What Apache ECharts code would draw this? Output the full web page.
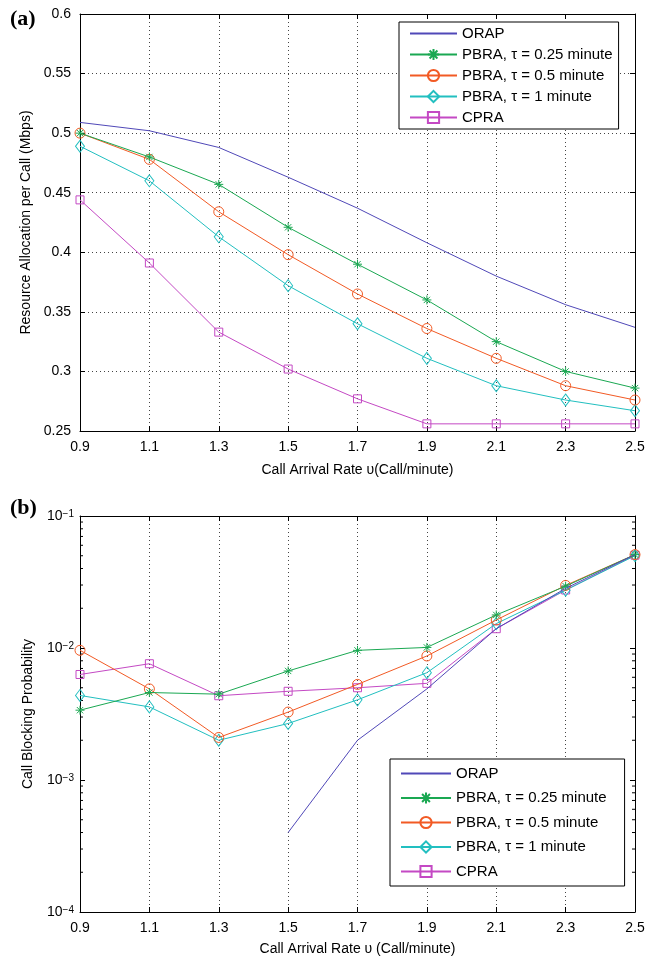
<!DOCTYPE html>
<html>
<head>
<meta charset="utf-8">
<script src="https://cdn.jsdelivr.net/npm/echarts@6/dist/echarts.min.js"></script>
<style>
html,body{margin:0;padding:0;background:#fff;}
#chart{width:648px;height:964px;}
</style>
</head>
<body>
<div id="chart"></div>
<script>
// ---- data ----
const categories = ['0.9','1.1','1.3','1.5','1.7','1.9','2.1','2.3','2.5'];
const seriesNames = ['ORAP','PBRA, \u03C4 = 0.25 minute','PBRA, \u03C4 = 0.5 minute','PBRA, \u03C4 = 1 minute','CPRA'];
const xTitles = ['Call Arrival Rate \u03C5(Call/minute)', 'Call Arrival Rate \u03C5 (Call/minute)'];

// (a) Resource Allocation per Call (Mbps)
const orapA   = [0.509, 0.502, 0.488, 0.463, 0.437, 0.408, 0.380, 0.356, 0.337];
const pbra25A = [0.500, 0.480, 0.457, 0.421, 0.390, 0.360, 0.325, 0.300, 0.286];
const pbra05A = [0.500, 0.478, 0.434, 0.398, 0.365, 0.336, 0.311, 0.288, 0.276];
const pbra1A  = [0.489, 0.460, 0.413, 0.372, 0.340, 0.311, 0.288, 0.276, 0.267];
const cpraA   = [0.444, 0.391, 0.333, 0.302, 0.277, 0.256, 0.256, 0.256, 0.256];

// (b) Call Blocking Probability
const orapB   = [null, null, null, 0.0004, 0.0020, 0.0049, 0.0140, 0.0283, 0.0510];
const pbra25B = [0.00338, 0.0046, 0.00447, 0.0067, 0.0096, 0.0101, 0.0178, 0.0294, 0.0510];
const pbra05B = [0.0096, 0.0049, 0.0021, 0.00327, 0.0053, 0.0087, 0.0163, 0.0298, 0.0510];
const pbra1B  = [0.00437, 0.00358, 0.0020, 0.00268, 0.00405, 0.0065, 0.0153, 0.0274, 0.0500];
const cpraB   = [0.0063, 0.0076, 0.00435, 0.0047, 0.0050, 0.0054, 0.0140, 0.0275, 0.0505];

// log axis minor tick values
const logMinorTicks = [0.0002,0.0003,0.0004,0.0005,0.0006,0.0007,0.0008,0.0009,
                       0.002,0.003,0.004,0.005,0.006,0.007,0.008,0.009,
                       0.02,0.03,0.04,0.05,0.06,0.07,0.08,0.09];

// ---- styles ----
const FONT = 'Liberation Sans';
const colors = ['#5048b8', '#1aa852', '#f25a24', '#22bfc0', '#c449c4'];
const asterisk = 'path://M5,0L5,10M0,5L10,5M1.5,1.5L8.5,8.5M1.5,8.5L8.5,1.5';
const symbols = ['none', asterisk, 'circle', 'diamond', 'rect'];
const symbolSizes = [0, 9, 10, [9, 12], 8];

function makeSeries(name, idx, data, gridIdx) {
  const c = colors[idx];
  return {
    name: name,
    type: 'line',
    xAxisIndex: gridIdx * 2,
    yAxisIndex: gridIdx * 2,
    data: data,
    symbol: symbols[idx],
    symbolSize: symbolSizes[idx],
    showSymbol: idx !== 0,
    connectNulls: false,
    lineStyle: { color: c, width: 1 },
    itemStyle: { color: 'rgba(0,0,0,0)', borderColor: c, borderWidth: 1 },
    emphasis: { disabled: true },
    z: 5 - idx + 2
  };
}

const legendData = seriesNames.map(function (n, i) {
  if (i === 0) {
    return { name: n, itemStyle: { color: 'rgba(0,0,0,0)', borderColor: 'rgba(0,0,0,0)', borderWidth: 0, opacity: 0 } };
  }
  return { name: n };
});

const gridLine = { show: true, lineStyle: { color: '#444', type: [1, 3], width: 1 } };
const axisLine = { show: true, onZero: false, lineStyle: { color: '#000', width: 1 } };
const tickIn = { show: true, inside: true, length: 5, lineStyle: { color: '#000', width: 1 }, interval: 0, alignWithLabel: true };

function xAxes(gridIdx) {
  return [
    {
      gridIndex: gridIdx, type: 'category', data: categories, boundaryGap: false, position: 'bottom',
      axisLine: axisLine, axisTick: tickIn, splitLine: Object.assign({ interval: 0 }, gridLine),
      axisLabel: { interval: 0, fontFamily: FONT, fontSize: 14, color: '#000', margin: 9 },
      name: xTitles[gridIdx], nameLocation: 'middle',
      nameGap: gridIdx === 0 ? 32 : 30,
      nameTextStyle: { fontFamily: FONT, fontSize: 14, color: '#000' }
    },
    {
      gridIndex: gridIdx, type: 'category', data: categories, boundaryGap: false, position: 'top',
      axisLine: axisLine, axisTick: tickIn, splitLine: { show: false }, axisLabel: { show: false }
    }
  ];
}

const option = {
  animation: false,
  backgroundColor: '#fff',
  title: [
    { text: '(a)', left: 5, top: 3, textStyle: { fontFamily: 'Liberation Serif', fontWeight: 'bold', fontSize: 22, color: '#000' } },
    { text: '(b)', left: 5, top: 492, textStyle: { fontFamily: 'Liberation Serif', fontWeight: 'bold', fontSize: 22, color: '#000' } }
  ],
  grid: [
    { left: 80, right: 13, top: 14, height: 417 },
    { left: 80, right: 13, top: 516, height: 396 }
  ],
  legend: [
    {
      data: legendData, orient: 'vertical', left: 399, top: 22,
      itemWidth: 47, itemHeight: 14, itemGap: 6,
      padding: [4, 6, 4, 10],
      backgroundColor: '#fff', borderColor: '#000', borderWidth: 1,
      textStyle: { fontFamily: FONT, fontSize: 15, color: '#000' },
      selectedMode: false
    },
    {
      data: legendData, orient: 'vertical', left: 390, top: 759,
      itemWidth: 50, itemHeight: 14, itemGap: 9.5,
      padding: [7, 18, 7, 10],
      backgroundColor: '#fff', borderColor: '#000', borderWidth: 1,
      textStyle: { fontFamily: FONT, fontSize: 15, color: '#000' },
      selectedMode: false
    }
  ],
  xAxis: xAxes(0).concat(xAxes(1)),
  yAxis: [
    {
      gridIndex: 0, type: 'value', min: 0.25, max: 0.6, interval: 0.05, position: 'left',
      axisLine: axisLine, axisTick: tickIn, splitLine: gridLine,
      axisLabel: { fontFamily: FONT, fontSize: 14, color: '#000', margin: 9 },
      name: 'Resource Allocation per Call (Mbps)', nameLocation: 'middle', nameGap: 45,
      nameTextStyle: { fontFamily: FONT, fontSize: 14, color: '#000' }
    },
    {
      gridIndex: 0, type: 'value', min: 0.25, max: 0.6, interval: 0.05, position: 'right',
      axisLine: axisLine, axisTick: tickIn, splitLine: { show: false }, axisLabel: { show: false }
    },
    {
      gridIndex: 1, type: 'log', logBase: 10, min: 0.0001, max: 0.1, position: 'left',
      axisLine: axisLine, axisTick: tickIn, splitLine: { show: false },
      axisLabel: {
        margin: 6,
        formatter: function (v) {
          const e = Math.round(Math.log10(v));
          return '{b|10}{s|\u2212' + Math.abs(e) + '}';
        },
        rich: {
          b: { fontFamily: FONT, fontSize: 14, color: '#000', lineHeight: 14, padding: [6, 0, 0, 0], verticalAlign: 'bottom' },
          s: { fontFamily: FONT, fontSize: 10, color: '#000', lineHeight: 10, verticalAlign: 'top' }
        }
      },
      name: 'Call Blocking Probability', nameLocation: 'middle', nameGap: 45,
      nameTextStyle: { fontFamily: FONT, fontSize: 14, color: '#000' }
    },
    {
      gridIndex: 1, type: 'log', logBase: 10, min: 0.0001, max: 0.1, position: 'right',
      axisLine: axisLine, axisTick: tickIn, splitLine: { show: false }, axisLabel: { show: false }
    }
  ],
  series: [
    makeSeries(seriesNames[0], 0, orapA, 0),
    makeSeries(seriesNames[1], 1, pbra25A, 0),
    makeSeries(seriesNames[2], 2, pbra05A, 0),
    makeSeries(seriesNames[3], 3, pbra1A, 0),
    makeSeries(seriesNames[4], 4, cpraA, 0),
    makeSeries(seriesNames[0], 0, orapB, 1),
    makeSeries(seriesNames[1], 1, pbra25B, 1),
    makeSeries(seriesNames[2], 2, pbra05B, 1),
    makeSeries(seriesNames[3], 3, pbra1B, 1),
    makeSeries(seriesNames[4], 4, cpraB, 1),
    {
      type: 'custom',
      xAxisIndex: 2, yAxisIndex: 2,
      silent: true,
      data: logMinorTicks.map(function (v) { return [0, v]; }),
      encode: { x: 0, y: 1 },
      renderItem: function (params, api) {
        const left = api.coord([0, api.value(1)]);
        const right = api.coord([categories.length - 1, api.value(1)]);
        const st = { stroke: '#000', lineWidth: 1 };
        return {
          type: 'group',
          children: [
            { type: 'line', shape: { x1: left[0], y1: left[1], x2: left[0] + 3, y2: left[1] }, style: st },
            { type: 'line', shape: { x1: right[0] - 3, y1: right[1], x2: right[0], y2: right[1] }, style: st }
          ]
        };
      },
      z: 1
    }
  ]
};

const chart = echarts.init(document.getElementById('chart'), null, { renderer: 'canvas' });
chart.setOption(option);
</script>
</body>
</html>
